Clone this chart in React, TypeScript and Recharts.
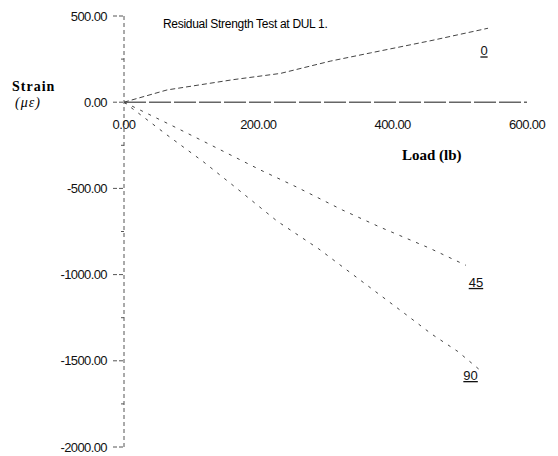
import { LineChart, Line, XAxis, YAxis, ReferenceLine, ReferenceDot } from "recharts";

// strain gauge readings (load in lb, strain in microstrain)
const LOAD_0 = [0, 64, 163, 233, 307, 367, 457, 542];
const STRAIN_0 = [0, 71, 131, 167, 238, 286, 357, 429];

const LOAD_45 = [0, 69, 124, 203, 258, 325, 382, 454, 509];
const STRAIN_45 = [0, -131, -238, -393, -494, -625, -726, -845, -946];

const LOAD_90 = [0, 24, 64, 118, 166, 228, 290, 363, 422, 458, 497, 530];
const STRAIN_90 = [0, -71, -190, -345, -494, -690, -851, -1065, -1238, -1345, -1446, -1554];

const Y_TICKS = [500, 250, 0, -250, -500, -750, -1000, -1250, -1500, -1750, -2000];
const X_TICKS = [0, 200, 400, 600];

// where the gauge names sit (data coords)
const SERIES_LABELS = [
  { name: "0", load: 536, strain: 298 },
  { name: "45", load: 524, strain: -1045 },
  { name: "90", load: 516, strain: -1585 },
];

const zip = (loads: number[], strains: number[]) =>
  loads.map((load, i) => ({ load, strain: strains[i] }));

const data0 = zip(LOAD_0, STRAIN_0);
const data45 = zip(LOAD_45, STRAIN_45);
const data90 = zip(LOAD_90, STRAIN_90);

const tickFont = "'Liberation Sans', Arial, sans-serif";
const serif = "'Liberation Serif', 'Times New Roman', serif";

function YTick(props: any) {
  const { x, y, payload } = props;
  const major = payload.value % 500 === 0;
  return (
    <g>
      <line
        x1={major ? x + 6 : x + 14}
        x2={x + 17}
        y1={y}
        y2={y}
        stroke="#555"
        strokeDasharray={major ? "4 2" : undefined}
      />
      {major && (
        <text
          x={x}
          y={y}
          dy="0.35em"
          textAnchor="end"
          fontFamily={tickFont}
          fontSize={13}
          letterSpacing={-0.6}
          fill="#111"
        >
          {payload.value.toFixed(2)}
        </text>
      )}
    </g>
  );
}

export default function App() {
  return (
    <div style={{ position: "absolute", left: 0, top: 0, width: 558, height: 456, background: "#fff" }}>
      <LineChart width={558} height={456} margin={{ top: 16, right: 31, bottom: 9, left: 0 }}>
        <XAxis type="number" dataKey="load" domain={[0, 600]} ticks={X_TICKS} hide />
        <YAxis
          type="number"
          domain={[-2000, 500]}
          ticks={Y_TICKS}
          interval={0}
          width={124}
          tickLine={false}
          tickSize={0}
          tickMargin={17}
          tick={<YTick />}
          axisLine={{ stroke: "#555", strokeDasharray: "4 3" }}
        />
        <ReferenceLine y={0} stroke="#666" strokeWidth={1.5} strokeDasharray="22 3" />
        {X_TICKS.map((t) => (
          <ReferenceDot
            key={t}
            x={t}
            y={0}
            r={0}
            stroke="none"
            label={(p: any) => (
              <text
                x={p.viewBox.x}
                y={p.viewBox.y + 27}
                textAnchor="middle"
                fontFamily={tickFont}
                fontSize={13}
                letterSpacing={-0.6}
                fill="#111"
              >
                {t.toFixed(2)}
              </text>
            )}
          />
        ))}
        <Line data={data0} dataKey="strain" stroke="#444" strokeWidth={1} strokeDasharray="5 3" dot={false} isAnimationActive={false} />
        <Line data={data45} dataKey="strain" stroke="#444" strokeWidth={1} strokeDasharray="3 6" dot={false} isAnimationActive={false} />
        <Line data={data90} dataKey="strain" stroke="#444" strokeWidth={1} strokeDasharray="3 6" dot={false} isAnimationActive={false} />
        {SERIES_LABELS.map((s) => (
          <ReferenceDot
            key={s.name}
            x={s.load}
            y={s.strain}
            r={0}
            stroke="none"
            label={(p: any) => (
              <text
                x={p.viewBox.x}
                y={p.viewBox.y}
                dy="0.35em"
                textAnchor="middle"
                fontFamily={tickFont}
                fontSize={13}
                textDecoration="underline"
                fill="#111"
              >
                {s.name}
              </text>
            )}
          />
        ))}
      </LineChart>
      <div
        style={{
          position: "absolute",
          left: 163,
          top: 17,
          fontFamily: tickFont,
          fontSize: 12,
          letterSpacing: -0.3,
          lineHeight: "15px",
          whiteSpace: "nowrap",
        }}
      >
        Residual Strength Test at DUL 1.
      </div>
      <div
        style={{
          position: "absolute",
          left: 12,
          top: 79,
          fontFamily: serif,
          fontWeight: "bold",
          fontSize: 14,
          letterSpacing: 1,
          lineHeight: "16px",
        }}
      >
        Strain
      </div>
      <div
        style={{
          position: "absolute",
          left: 15,
          top: 95,
          fontFamily: serif,
          fontStyle: "italic",
          fontSize: 14,
          letterSpacing: 1,
          lineHeight: "16px",
        }}
      >
        (με)
      </div>
      <div
        style={{
          position: "absolute",
          left: 402,
          top: 146,
          fontFamily: serif,
          fontWeight: "bold",
          fontSize: 15,
          lineHeight: "18px",
          whiteSpace: "nowrap",
        }}
      >
        Load (lb)
      </div>
    </div>
  );
}
